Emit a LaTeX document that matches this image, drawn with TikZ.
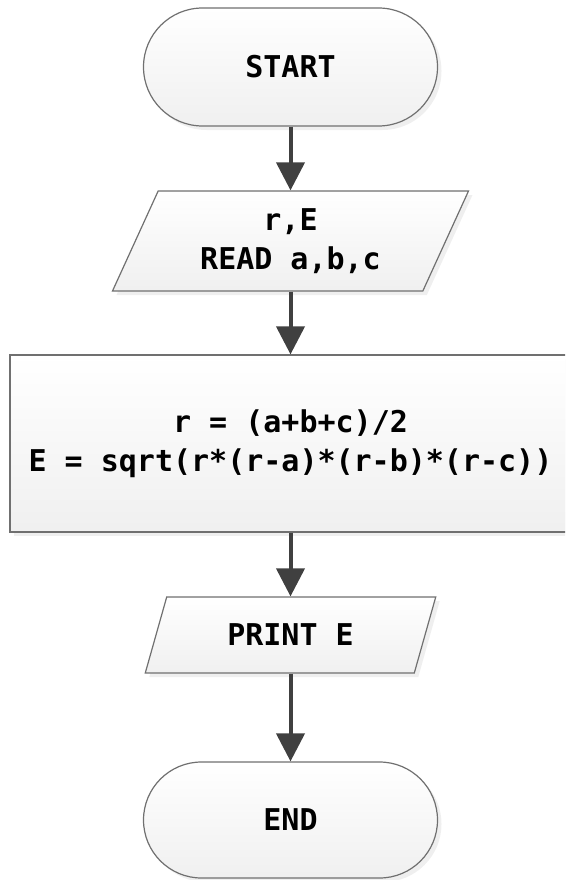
\documentclass[tikz,border=0pt]{standalone}
\usepackage{fontspec}
\setmonofont{DejaVu Sans Mono}
\usetikzlibrary{shapes.geometric,shapes.misc,shadows,arrows.meta}
\definecolor{bord}{HTML}{707070}
\definecolor{arrc}{HTML}{404040}
\definecolor{shd}{HTML}{E0E0E0}
\tikzset{
  box/.style={draw=bord, line width=1.2pt, top color=white, bottom color=black!6,
    drop shadow={shadow xshift=4pt,shadow yshift=-4pt,fill=shd,draw=none},
    font=\ttfamily\bfseries\fontsize{30}{39}\selectfont, align=center, inner sep=0pt},
  term/.style={box, rounded rectangle, minimum width=294pt, minimum height=118pt},
  iobox/.style={box, trapezium, trapezium stretches=true},
  procbox/.style={box, rectangle, minimum width=561pt, minimum height=177pt},
  arr/.style={draw=arrc, line width=4pt, -{Triangle[width=28pt,length=28pt]}}
}
\begin{document}
\begin{tikzpicture}[x=1pt,y=-1pt]
\clip (0,0) rectangle (565,880);
\node[term] (start) at (290.5,67) {START};
\node[iobox, trapezium left angle=64.4, trapezium right angle=115.6,
      minimum width=357pt, minimum height=100pt] (in1) at (290.5,241) {r,E\\READ a,b,c};
\node[procbox] (proc) at (290.5,443.5) {r = (a+b+c)/2\\E = sqrt(r*(r-a)*(r-b)*(r-c))};
\node[iobox, trapezium left angle=63.4, trapezium right angle=116.6,
      minimum width=291pt, minimum height=76pt] (out) at (290.5,635) {PRINT E};
\node[term, minimum height=116pt] (stop) at (290.5,820) {END};
\draw[arr] (start.south) -- (start.south |- in1.north);
\draw[arr] (in1.center |- in1.south) -- (in1.center |- proc.north);
\draw[arr] (proc.south) -- (proc.south |- out.north);
\draw[arr] (out.center |- out.south) -- (out.center |- stop.north);
\end{tikzpicture}
\end{document}
